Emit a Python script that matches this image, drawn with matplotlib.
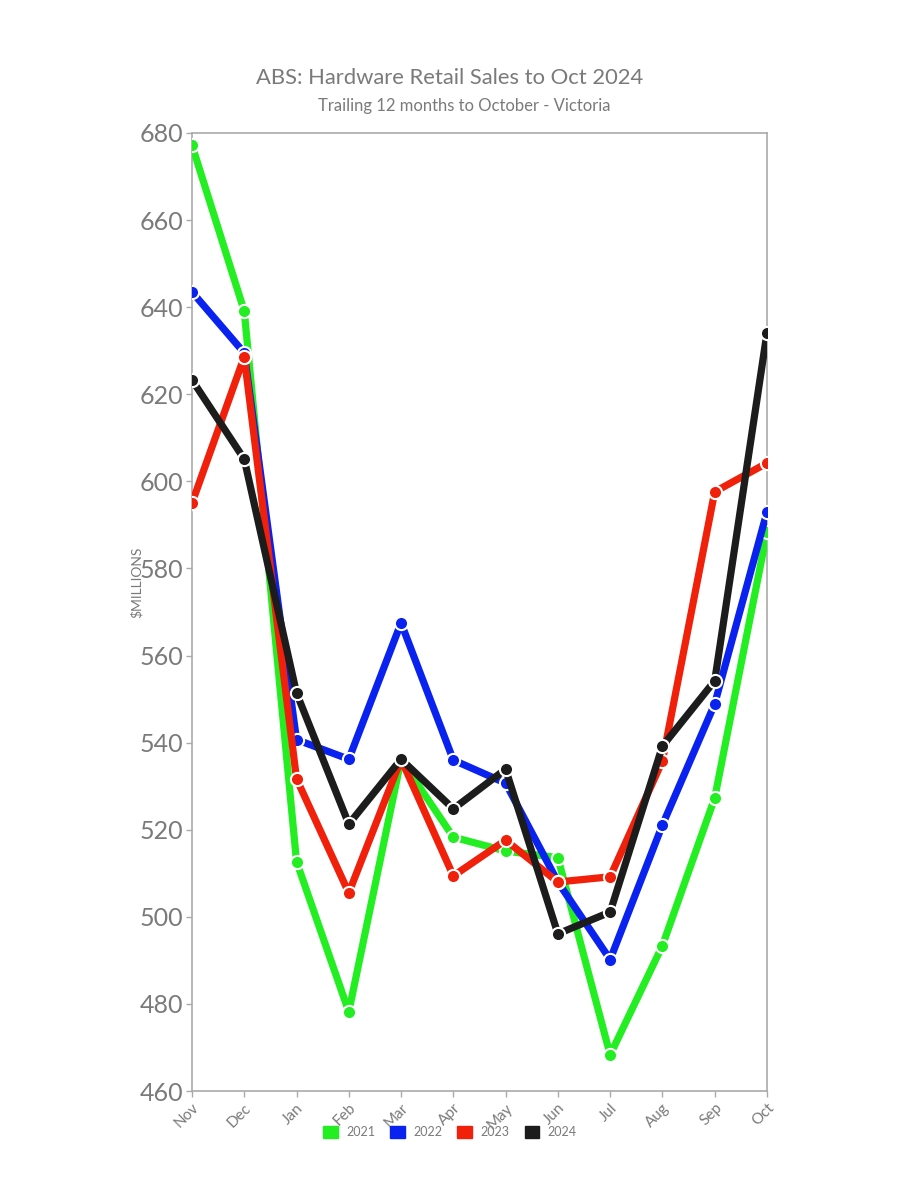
import matplotlib
matplotlib.use("Agg")
import matplotlib.pyplot as plt
from matplotlib.patches import Patch

months = ["Nov", "Dec", "Jan", "Feb", "Mar", "Apr", "May", "Jun", "Jul", "Aug", "Sep", "Oct"]
s2021 = [677.2, 639.1, 512.7, 478.2, 536.1, 518.3, 515.1, 513.6, 468.3, 493.4, 527.3, 588.3]
s2022 = [643.5, 629.5, 540.7, 536.2, 567.5, 536.0, 530.7, 508.0, 490.2, 521.1, 548.9, 593.0]
s2023 = [595.0, 628.6, 531.7, 505.5, 536.2, 509.4, 517.6, 508.0, 509.2, 535.8, 597.6, 604.2]
s2024 = [623.3, 605.1, 551.4, 521.3, 536.2, 524.8, 533.9, 496.1, 501.1, 539.2, 554.2, 634.1]
series_names = ["2021", "2022", "2023", "2024"]
colors = ["#22ee22", "#0a22f0", "#f0200a", "#1c1c1c"]
yticks = [460, 480, 500, 520, 540, 560, 580, 600, 620, 640, 660, 680]

plt.rcParams['font.family'] = ['Lato', 'DejaVu Sans']
gray = "#7a7a7a"

fig = plt.figure(figsize=(9, 12), dpi=100)
ax = fig.add_axes([0.2133, 0.0908, 0.6389, 0.7984])

x = list(range(len(months)))
for vals, c in zip([s2021, s2022, s2023, s2024], colors):
    ax.plot(x, vals, color=c, lw=5.2, marker="o", ms=9.5,
            mfc=c, mec="white", mew=1.5, solid_capstyle="round", zorder=3)

ax.set_xlim(0, len(months) - 1)
ax.set_ylim(460, 680)
ax.set_yticks(yticks)
ax.set_yticklabels([str(v) for v in yticks], fontsize=18, color=gray)
ax.set_xticks(x)
ax.set_xticklabels(months, rotation=45, ha="right", rotation_mode="anchor",
                   fontsize=11, color=gray)
ax.tick_params(axis="both", colors="#aaaaaa", length=4, width=1)
ax.tick_params(axis="y", labelcolor=gray, pad=2)
ax.tick_params(axis="x", labelcolor=gray, pad=3)
for sp in ax.spines.values():
    sp.set_color("#aaaaaa")
    sp.set_linewidth(1.2)

fig.text(137 / 900, 1 - 582 / 1200, "$MILLIONS", rotation=90, ha="center",
         va="center", fontsize=10, color=gray)

fig.text(0.5, 1 - 78 / 1200, "ABS: Hardware Retail Sales to Oct 2024", ha="center",
         va="center", fontsize=15.8, color=gray)
fig.text(464 / 900, 1 - 106 / 1200, "Trailing 12 months to October - Victoria", ha="center",
         va="center", fontsize=12, color=gray)

handles = [Patch(facecolor=c, edgecolor=c, label=n) for c, n in zip(colors, series_names)]
fig.legend(handles=handles, loc="center", bbox_to_anchor=(0.5, 1 - 1132 / 1200), ncol=4,
           frameon=False, fontsize=9, handlelength=1.15, handleheight=1.15,
           columnspacing=1.2, handletextpad=0.7, labelcolor=gray)

fig.savefig("out.png", dpi=100, facecolor="white")
